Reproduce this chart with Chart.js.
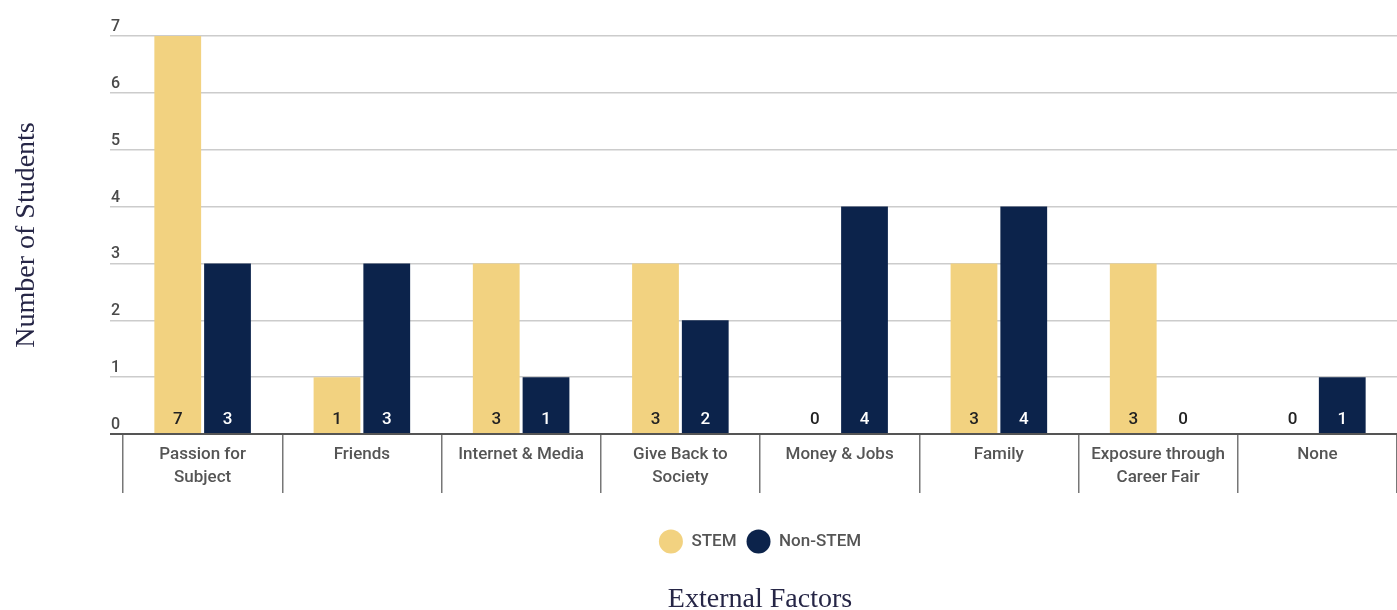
<!DOCTYPE html>
<html>
<head>
<meta charset="utf-8">
<script src="https://cdn.jsdelivr.net/npm/chart.js@4"></script>
<style>
  html, body { margin: 0; padding: 0; background: #fff; overflow: hidden; }
  #wrap { width: 1397px; height: 610px; }
</style>
</head>
<body>
<div id="wrap"><canvas id="grafico"></canvas></div>
<script>
// Dados
const categorias = [
  ['Passion for', 'Subject'],
  'Friends',
  'Internet & Media',
  ['Give Back to', 'Society'],
  'Money & Jobs',
  'Family',
  ['Exposure through', 'Career Fair'],
  'None'
];
const stem = [7, 1, 3, 3, 0, 3, 3, 0];
const naoStem = [3, 3, 1, 2, 4, 4, 0, 1];
const ticksY = [0, 1, 2, 3, 4, 5, 6, 7];

const AMARELO = '#f2d280';
const AZUL = '#0c234b';

// Escreve o valor de cada barra junto à base
const rotulosValores = {
  id: 'rotulosValores',
  afterDatasetsDraw(chart) {
    const ctx = chart.ctx;
    const base = chart.scales.y.getPixelForValue(0);
    ctx.save();
    ctx.font = '500 17px Roboto';
    ctx.textAlign = 'center';
    ctx.textBaseline = 'middle';
    chart.data.datasets.forEach((ds, i) => {
      chart.getDatasetMeta(i).data.forEach((barra, j) => {
        const v = ds.data[j];
        ctx.fillStyle = (i === 1 && v > 0) ? '#ffffff' : '#222222';
        ctx.fillText(String(v), barra.x, base - 14);
      });
    });
    ctx.restore();
  }
};

new Chart(document.getElementById('grafico'), {
  type: 'bar',
  data: {
    labels: categorias,
    datasets: [
      { label: 'STEM', data: stem, backgroundColor: AMARELO },
      { label: 'Non-STEM', data: naoStem, backgroundColor: AZUL }
    ]
  },
  options: {
    responsive: true,
    maintainAspectRatio: false,
    animation: false,
    layout: { padding: { top: 36, left: 0, right: 0, bottom: 0 } },
    datasets: {
      bar: { categoryPercentage: 0.625, barPercentage: 0.94 }
    },
    plugins: {
      legend: {
        position: 'bottom',
        fullSize: false,
        labels: {
          usePointStyle: true,
          pointStyle: 'circle',
          pointStyleWidth: 24,
          boxHeight: 17,
          color: '#555555',
          font: { family: 'Roboto', size: 17, weight: '500' },
          padding: 10
        }
      },
      title: {
        display: true,
        position: 'bottom',
        fullSize: false,
        text: 'External Factors',
        color: '#262646',
        font: { family: "'Liberation Serif', 'Times New Roman', serif", size: 28, weight: 'normal', lineHeight: 1.0 },
        padding: { top: 26, bottom: -4 }
      },
      tooltip: { enabled: false }
    },
    scales: {
      x: {
        border: { display: false },
        grid: {
          offset: true,
          drawOnChartArea: false,
          drawTicks: true,
          tickLength: 59,
          color: '#777777',
          lineWidth: 1.5
        },
        ticks: {
          color: '#555555',
          font: { family: 'Roboto', size: 17, weight: '500', lineHeight: 1.35 },
          padding: -50,
          maxRotation: 0,
          autoSkip: false
        },
        afterFit: (escala) => { escala.height = 89; }
      },
      y: {
        min: 0,
        max: 7,
        border: { display: false },
        afterBuildTicks: (escala) => { escala.ticks = ticksY.map(v => ({ value: v })); },
        grid: {
          drawTicks: true,
          tickLength: 13,
          color: (c) => c.tick && c.tick.value === 0 ? '#555555' : '#cccccc',
          lineWidth: (c) => c.tick && c.tick.value === 0 ? 2 : 1.5
        },
        ticks: {
          color: '#4a4a4a',
          font: { family: 'Roboto', size: 16, weight: '500' },
          padding: -10,
          labelOffset: -9
        },
        title: {
          display: true,
          text: 'Number of Students',
          color: '#262646',
          font: { family: "'Liberation Serif', 'Times New Roman', serif", size: 28, weight: 'normal', lineHeight: 1.2 },
          padding: { top: 10, bottom: 0 }
        },
        afterFit: (escala) => { escala.width = 123; }
      }
    }
  },
  plugins: [rotulosValores]
});
</script>
</body>
</html>
